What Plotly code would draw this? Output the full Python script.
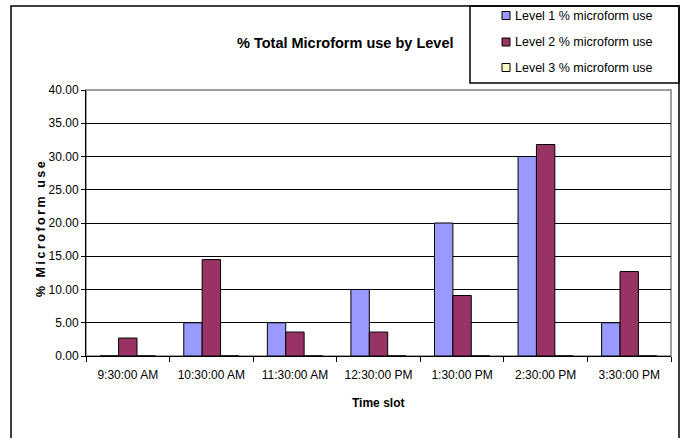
import plotly.graph_objects as go

# data
time_slots = ["9:30:00 AM", "10:30:00 AM", "11:30:00 AM", "12:30:00 PM",
              "1:30:00 PM", "2:30:00 PM", "3:30:00 PM"]
level1 = [0, 5, 5, 10, 20, 30, 5]
level2 = [2.7, 14.5, 3.6, 3.6, 9.1, 31.8, 12.7]
level3 = [0, 0, 0, 0, 0, 0, 0]

names = ["Level 1 % microform use", "Level 2 % microform use", "Level 3 % microform use"]
colors = ["#9999FF", "#993366", "#FFFFCC"]

W, H = 682, 438
L, R, T, B = 86, 671, 90, 356   # plot area in pixels


def px(x):
    return (x - L) / (R - L)


def py(y):
    return (B - y) / (B - T)


FONT = "Arial, Liberation Sans, sans-serif"

fig = go.Figure()
for i, vals in enumerate([level1, level2, level3]):
    fig.add_trace(go.Bar(
        x=time_slots, y=vals, name=names[i],
        marker=dict(color=colors[i], line=dict(color="black", width=1)),
    ))

fig.update_layout(
    width=W, height=H,
    margin=dict(l=L, r=W - R, t=T, b=H - B),
    paper_bgcolor="white", plot_bgcolor="white",
    barmode="group", bargap=0.34, bargroupgap=0,
    font=dict(family=FONT, size=12, color="black"),
    showlegend=False,
)

fig.update_xaxes(
    showline=True, linecolor="black", linewidth=1,
    ticks="outside", tickson="boundaries", ticklen=5, tickcolor="black",
    ticklabelstandoff=8, tickfont=dict(size=12),
    showgrid=False,
)
fig.update_yaxes(
    range=[0, 40], dtick=5, tickformat=".2f",
    showline=True, linecolor="black", linewidth=1,
    ticks="outside", ticklen=4, tickcolor="black", tickfont=dict(size=12),
    showgrid=True, gridcolor="black", gridwidth=1,
    zeroline=False,
)

# chart frame, plot area border, legend box
fig.add_shape(type="rect", xref="paper", yref="paper",
              x0=px(11), x1=px(679), y0=py(445), y1=py(6),
              line=dict(color="black", width=1.5), layer="below")
fig.add_shape(type="rect", xref="paper", yref="paper",
              x0=0, x1=1, y0=0, y1=1,
              line=dict(color="#808080", width=1.5), layer="below")
fig.add_shape(type="rect", xref="paper", yref="paper",
              x0=px(470), x1=px(679), y0=py(83), y1=py(6),
              line=dict(color="black", width=1.5), layer="below")

# legend entries (small swatches next to the text, like the original)
legend_rows = [15.5, 42, 67.5]
for i, name in enumerate(names):
    yc = legend_rows[i]
    fig.add_shape(type="rect", xref="paper", yref="paper",
                  x0=px(502), x1=px(510), y0=py(yc + 4), y1=py(yc - 4),
                  fillcolor=colors[i], line=dict(color="black", width=1))
    fig.add_annotation(text=name, xref="paper", yref="paper",
                       x=px(513), y=py(yc), xanchor="left", yanchor="middle",
                       showarrow=False, font=dict(size=12.5))

# titles
fig.add_annotation(text="<b>% Total Microform use by Level</b>",
                   xref="paper", yref="paper", x=px(345), y=py(33),
                   showarrow=False, font=dict(size=14.5))
fig.add_annotation(text="<b>Time slot</b>",
                   xref="paper", yref="paper", x=px(378), y=py(412),
                   showarrow=False, font=dict(size=12))
fig.add_annotation(text='<b><span style="letter-spacing:2.5px">% Microform use</span></b>',
                   xref="paper", yref="paper", x=px(32), y=py(228),
                   textangle=-90, showarrow=False, font=dict(size=12.5))

# the page body has a default 8px margin; drop it so the figure sits at 0,0
fig.write_html("out.html", config={"displayModeBar": False},
               post_script="document.body.style.margin='0';")
